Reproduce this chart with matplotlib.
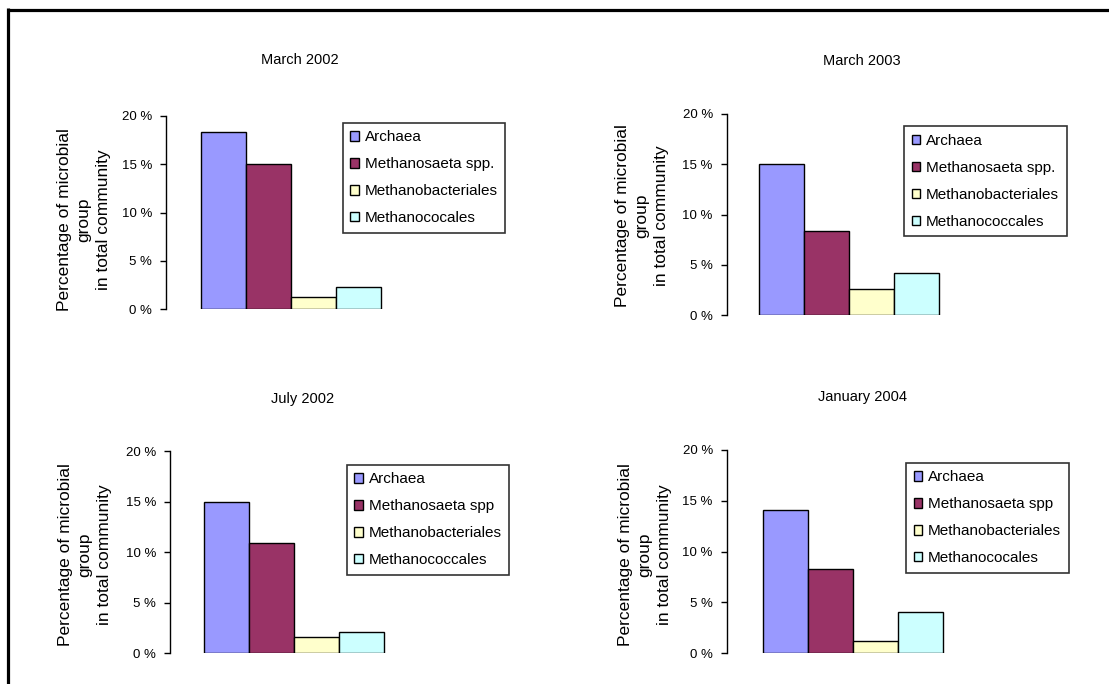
import matplotlib
matplotlib.use("Agg")
import matplotlib.pyplot as plt
from matplotlib.patches import Patch
from matplotlib.lines import Line2D

plt.rcParams['font.family'] = ['Liberation Sans', 'DejaVu Sans']

# ---- data ----
titles = ["March 2002", "March 2003", "July 2002", "January 2004"]
archaea = [18.3, 15.0, 15.0, 14.1]
methanosaeta = [15.0, 8.4, 10.9, 8.3]
methanobacteriales = [1.2, 2.6, 1.6, 1.2]
methanococcales = [2.3, 4.2, 2.1, 4.1]
legend_labels = [
    ["Archaea", "Methanosaeta spp.", "Methanobacteriales", "Methanococales"],
    ["Archaea", "Methanosaeta spp.", "Methanobacteriales", "Methanococcales"],
    ["Archaea", "Methanosaeta spp", "Methanobacteriales", "Methanococcales"],
    ["Archaea", "Methanosaeta spp", "Methanobacteriales", "Methanococales"],
]
yticks = [0, 5, 10, 15, 20]
ytick_labels = ["0 %", "5 %", "10 %", "15 %", "20 %"]
ylabel = "Percentage of microbial\ngroup\nin total community"
colors = ["#9999FF", "#993366", "#FFFFCC", "#CCFFFF"]

# ---- layout (pixels) ----
W, H = 1109, 684
layout = [
    dict(axis_x=166, y0=309, y20=116, bar_x0=200.7, title=(300, 60), ylab=(84, 220), leg=(342.7, 122.7)),
    dict(axis_x=726.7, y0=315.3, y20=114, bar_x0=759.3, title=(861.7, 60.7), ylab=(642, 216), leg=(904, 126)),
    dict(axis_x=170, y0=653.3, y20=451.3, bar_x0=204, title=(303, 399), ylab=(85, 555), leg=(346.7, 464.7)),
    dict(axis_x=726.7, y0=653.3, y20=450, bar_x0=763.3, title=(862.7, 397.3), ylab=(645, 555), leg=(906, 462.7)),
]
unit = 45.0
axw = 250.0

fig = plt.figure(figsize=(W / 100, H / 100), dpi=100)

def fx(x):
    return x / W

def fy(y):
    return 1 - y / H

for i in range(4):
    L = layout[i]
    ax = fig.add_axes([fx(L['axis_x']), fy(L['y0']), axw / W, (L['y0'] - L['y20']) / H])
    vals = [archaea[i], methanosaeta[i], methanobacteriales[i], methanococcales[i]]
    ax.bar(range(4), vals, width=1.0, color=colors, edgecolor='black', linewidth=1.0)
    lo = -0.5 - (L['bar_x0'] - L['axis_x']) / unit
    ax.set_xlim(lo, lo + axw / unit)
    ax.set_ylim(0, 20)
    ax.set_yticks(yticks)
    ax.set_yticklabels(ytick_labels, fontsize=9.5)
    ax.set_xticks([])
    for s in ['top', 'right', 'bottom']:
        ax.spines[s].set_visible(False)
    ax.spines['left'].set_linewidth(1.0)
    ax.tick_params(axis='y', direction='out', length=4, width=1.0, pad=6)
    ax.patch.set_alpha(0)

    fig.text(fx(L['title'][0]), fy(L['title'][1]), titles[i], ha='center', va='center', fontsize=10.5)
    fig.text(fx(L['ylab'][0]), fy(L['ylab'][1]), ylabel, ha='center', va='center',
             rotation=90, fontsize=12.5, multialignment='center', linespacing=1.35)

    handles = [Patch(facecolor=c, edgecolor='black', linewidth=1.0) for c in colors]
    leg = fig.legend(handles, legend_labels[i], loc='upper left',
                     bbox_to_anchor=(fx(L['leg'][0]), fy(L['leg'][1])),
                     bbox_transform=fig.transFigure, fontsize=11,
                     handlelength=0.55, handleheight=0.55, handletextpad=0.4,
                     labelspacing=0.85, borderpad=0.5, borderaxespad=0,
                     frameon=True, fancybox=False, shadow=False)
    leg.get_frame().set_edgecolor('black')
    leg.get_frame().set_linewidth(1.2)

# outer border (top and left)
fig.add_artist(Line2D([fx(7.5), 1.0], [fy(9.5), fy(9.5)], color='black', linewidth=2.3,
                      solid_capstyle='butt', transform=fig.transFigure))
fig.add_artist(Line2D([fx(7.5), fx(7.5)], [fy(8.3), 0.0], color='black', linewidth=2.3,
                      solid_capstyle='butt', transform=fig.transFigure))

fig.savefig("out.png", dpi=100, facecolor='white')
